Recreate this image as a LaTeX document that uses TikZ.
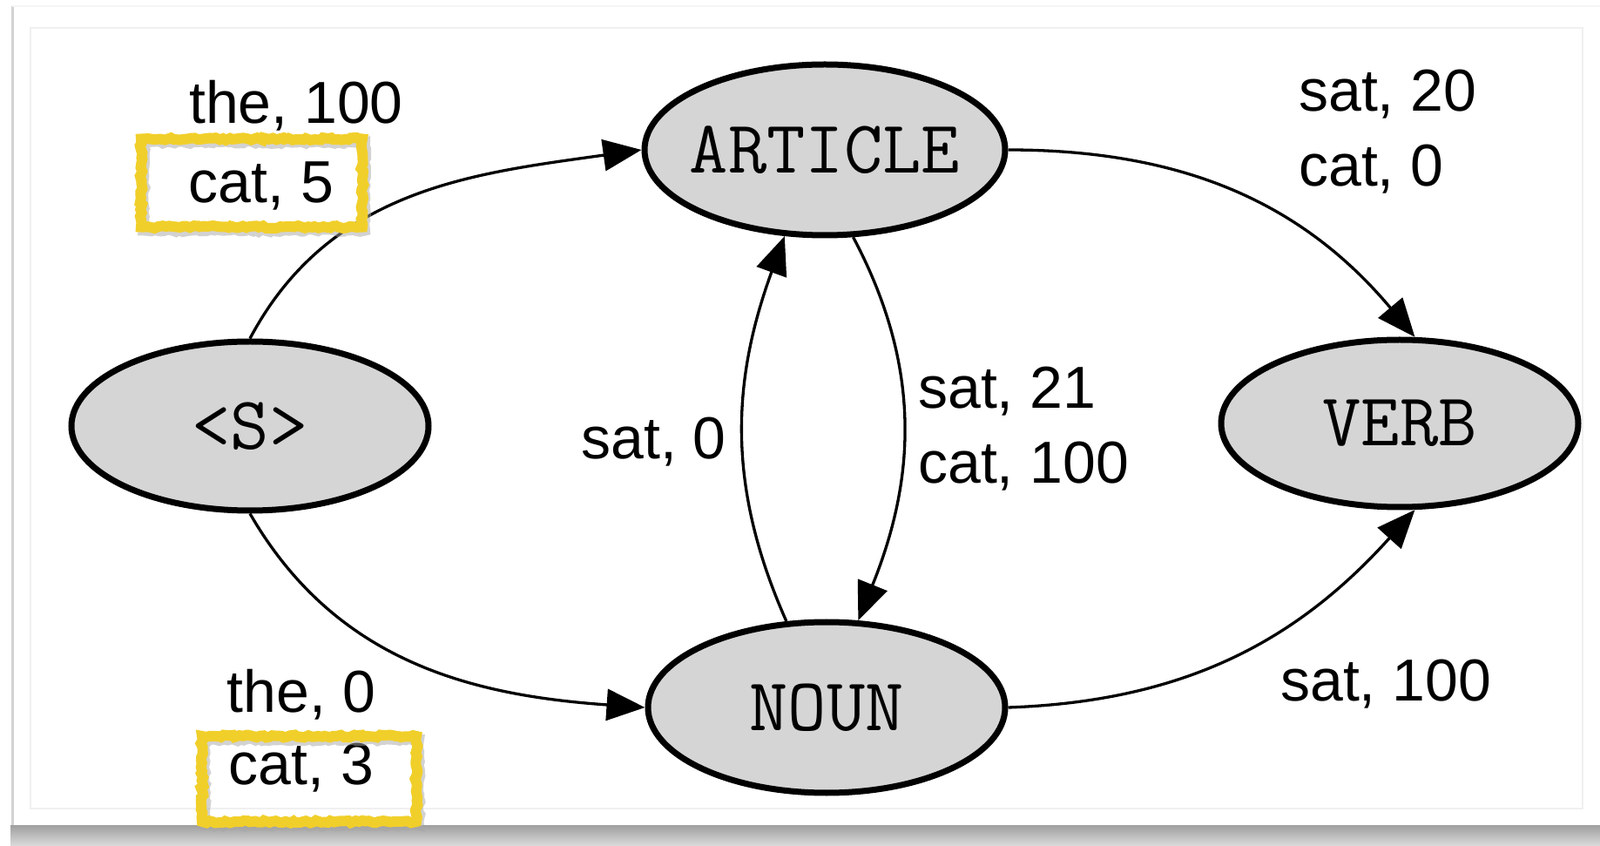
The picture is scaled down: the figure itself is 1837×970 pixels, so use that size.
\documentclass[tikz,border=0pt]{standalone}
\usepackage{fontspec}
\setmainfont{Liberation Sans}
\newfontfamily\monofont{Latin Modern Mono}
\usetikzlibrary{arrows.meta,shapes.geometric,decorations.pathmorphing}
\definecolor{nodegray}{RGB}{213,213,213}
\definecolor{hiyellow}{RGB}{241,207,42}
\begin{document}
\begin{tikzpicture}[x=1pt,y=1pt,
  state/.style={ellipse, draw=black, line width=7pt, fill=nodegray, inner sep=0pt,
    font=\monofont\fontsize{86}{86}\selectfont},
  lbl/.style={font=\fontsize{68}{86}\selectfont, inner sep=0pt, align=left},
  edge/.style={line width=3.3pt, -{Triangle[length=44pt,width=36pt]}},
  hibox/.style={draw=hiyellow, line width=12pt, inner sep=0pt, decorate,
    decoration={random steps,segment length=4pt,amplitude=1.5pt}},
  hishadow/.style={draw=black!35, opacity=0.5, line width=12pt, inner sep=0pt, decorate,
    decoration={random steps,segment length=4pt,amplitude=1.5pt}},
]
\useasboundingbox (0,0) rectangle (1837,970);
\fill[white] (0,0) rectangle (1837,970);
% card and its shadow
\shade[top color=gray!75, bottom color=gray!30] (12,0) rectangle (1837,23);
\draw[gray!35, line width=3pt] (14,23) -- (14,963);
\draw[gray!8, line width=1.5pt] (14,963) -- (1837,963);
\draw[gray!12, line width=1.5pt] (35,42) rectangle (1817,938);

% states
\node[state, minimum width=410pt, minimum height=194pt] (S) at (287,481) {\makebox[0pt][c]{<S>}};
\node[state, minimum width=414pt, minimum height=196pt] (A) at (947,798) {\makebox[0pt][c]{ARTICLE}};
\node[state, minimum width=410pt, minimum height=192pt] (V) at (1607,484) {\makebox[0pt][c]{VERB}};
\node[state, minimum width=410pt, minimum height=196pt] (N) at (949,158) {\makebox[0pt][c]{NOUN}};

% transitions
\draw[edge] (S.north) to[out=62, in=188] (A.west);
\draw[edge] (S.south) to[out=-60, in=176] (N.west);
\draw[edge] (A.east) to[out=0, in=130] (V.80);
\draw[edge] (N.east) to[out=2, in=228] (V.-80);
\draw[edge] (N.115) to[out=114, in=250] (A.-115);
\draw[edge] (A.-72) to[out=-62, in=68] (N.70);

% labels
\node[lbl] (l1) at (340,849) {the, 100};
\node[lbl] (l2) at (300,757) {cat, 5};
\node[hishadow, minimum width=254pt, minimum height=101pt] (s1) at (292,756) {};
\node[hibox, minimum width=254pt, minimum height=101pt] (b1) at (289,760) {};
\node[lbl] (l3) at (346,173) {the, 0};
\node[lbl] (l4) at (346,89) {cat, 3};
\node[hishadow, minimum width=246pt, minimum height=98pt] (s2) at (358,72) {};
\node[hibox, minimum width=246pt, minimum height=98pt] (b2) at (355,76) {};
\node[lbl, anchor=west] (l5) at (1491,819) {sat, 20\\cat, 0};
\node[lbl, anchor=west] (l6) at (1054,478) {sat, 21\\cat, 100};
\node[lbl, anchor=east] (l7) at (834,463) {sat, 0};
\node[lbl, anchor=west] (l8) at (1470,185) {sat, 100};
\end{tikzpicture}
\end{document}
